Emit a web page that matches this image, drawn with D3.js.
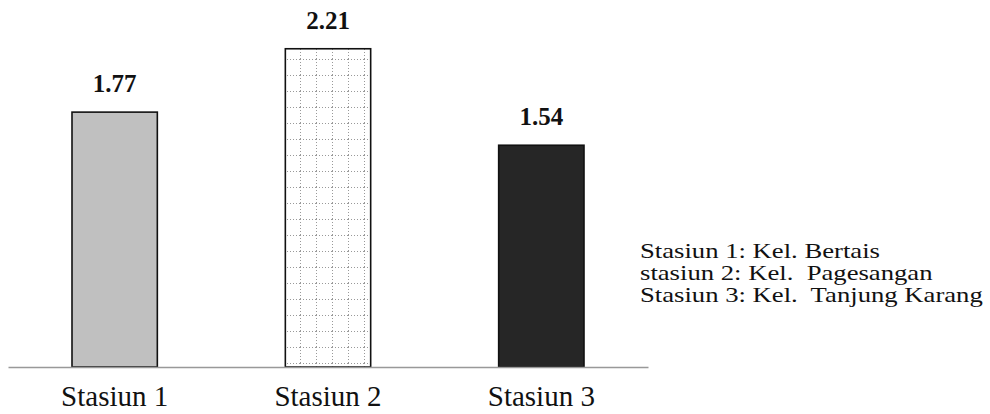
<!DOCTYPE html>
<html><head><meta charset="utf-8">
<script src="https://cdn.jsdelivr.net/npm/d3@7"></script>
<style>body{margin:0;background:#fff}svg{display:block}</style>
</head><body>
<svg id="c" width="990" height="414"></svg>
<script>
const categories = ["Stasiun 1", "Stasiun 2", "Stasiun 3"];
const values = [1.77, 2.21, 1.54];
const valueLabels = ["1.77", "2.21", "1.54"];
const legendLines = ["Stasiun 1: Kel. Bertais", "stasiun 2: Kel.  Pagesangan", "Stasiun 3: Kel.  Tanjung Karang"];

const svg = d3.select("#c");
const font = "Liberation Serif, DejaVu Serif, serif";

const x = d3.scaleBand().domain(categories).range([8, 648]).paddingInner(0.6).paddingOuter(0.3);
const y = d3.scaleLinear().domain([0, 2.5]).range([367, 7]);

const defs = svg.append("defs");
const pat = defs.append("pattern").attr("id", "grid").attr("patternUnits", "userSpaceOnUse")
  .attr("width", 16).attr("height", 16).attr("x", 12).attr("y", 11);
pat.append("rect").attr("width", 16).attr("height", 16).attr("fill", "#fff");
pat.append("line").attr("x1", 0).attr("x2", 16).attr("y1", 0.5).attr("y2", 0.5)
  .attr("stroke", "#999").attr("stroke-width", 1).attr("stroke-dasharray", "1,2");
pat.append("line").attr("x1", 0.5).attr("x2", 0.5).attr("y1", 0).attr("y2", 16)
  .attr("stroke", "#999").attr("stroke-width", 1).attr("stroke-dasharray", "1,2");

const fills = ["#c0c0c0", "url(#grid)", "#262626"];

svg.selectAll("rect.bar").data(values).join("rect").attr("class", "bar")
  .attr("x", (d, i) => x(categories[i]))
  .attr("width", x.bandwidth())
  .attr("y", d => y(d))
  .attr("height", d => y(0) - y(d))
  .attr("fill", (d, i) => fills[i])
  .attr("stroke", "#111").attr("stroke-width", 1.6);

// axis
const axis = d3.axisBottom(x).tickSize(0).tickPadding(0);
const ag = svg.append("g").attr("transform", `translate(0,${y(0)})`).call(axis);
ag.select(".domain").attr("stroke", "#999").attr("stroke-width", 1.6);
ag.selectAll(".tick text").attr("font-family", font).attr("font-size", 29).attr("fill", "#111")
  .attr("dy", 0).attr("y", 39);

svg.selectAll("text.val").data(values).join("text").attr("class", "val")
  .attr("x", (d, i) => x(categories[i]) + x.bandwidth() / 2)
  .attr("y", d => y(d) - 20)
  .attr("text-anchor", "middle")
  .attr("font-family", font).attr("font-weight", "bold").attr("font-size", 25).attr("fill", "#111")
  .text((d, i) => valueLabels[i]);

svg.selectAll("text.leg").data(legendLines).join("text").attr("class", "leg")
  .attr("transform", (d, i) => `translate(640,${258 + i * 22}) scale(1.27,1)`)
  .attr("font-family", font).attr("font-size", 21).attr("fill", "#111")
  .style("white-space", "pre")
  .text(d => d);
</script>
</body></html>
